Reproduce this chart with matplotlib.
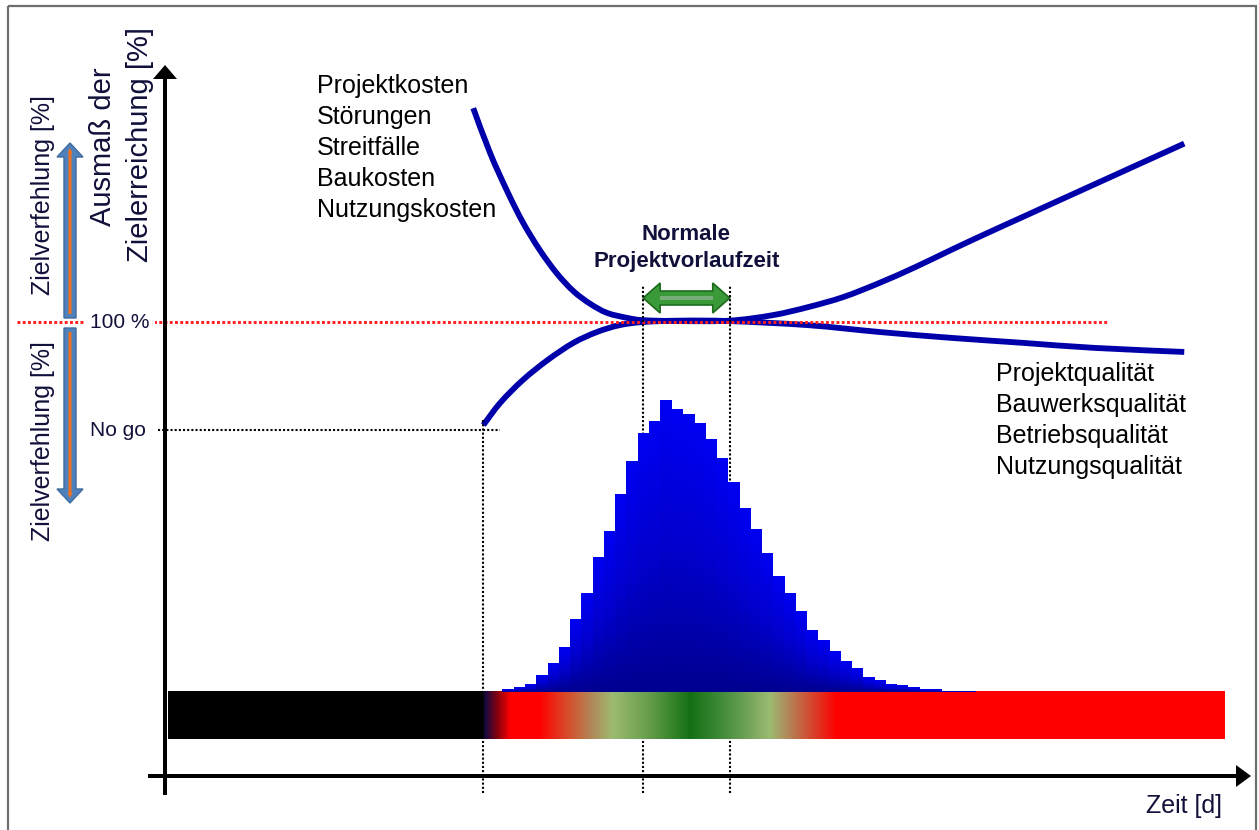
import numpy as np
import matplotlib.pyplot as plt
import matplotlib.patches as mpatches
from matplotlib.path import Path
from matplotlib.colors import LinearSegmentedColormap, to_rgb

plt.rcParams['font.family'] = ['Liberation Sans', 'DejaVu Sans']

# ---- values ----
cost_labels = ['Projektkosten', 'Störungen', 'Streitfälle', 'Baukosten', 'Nutzungskosten']
quality_labels = ['Projektqualität', 'Bauwerksqualität', 'Betriebsqualität', 'Nutzungsqualität']

# cost curve (Zielerreichung in %, over time in days)
cost_days = [27.4, 28.9, 30.4, 31.8, 33.3, 34.8, 36.3, 37.8, 39.3, 41.1, 42.5, 45.8, 50.2,
             54.0, 57.2, 60.3, 63.5, 66.7, 69.9, 73.1, 76.3, 79.4, 82.6, 85.8, 90.6]
cost_pct = [147.1, 137.2, 128.9, 122.0, 115.9, 110.8, 106.8, 104.0, 102.0, 100.9, 100.4, 100.2, 100.3,
            101.5, 103.3, 105.5, 108.6, 112.1, 115.9, 119.6, 123.2, 126.7, 130.3, 133.9, 139.3]

# quality curve
quality_days = [28.3, 29.8, 31.8, 34.0, 36.3, 38.4, 40.4, 42.5, 45.8, 50.2, 57.2, 63.5, 69.9, 76.3, 82.6, 90.6]
quality_pct = [77.3, 82.2, 87.2, 91.6, 95.4, 97.8, 99.3, 100.0, 100.3, 100.2, 99.3, 97.8, 96.5, 95.4, 94.3, 93.4]

# distribution of project lead time (relative frequency, peak = 100), one bar per day
hist_start = 30
hist_counts = [0.7, 1.7, 2.4, 5.8, 9.9, 15.4, 24.7, 33.9, 46.2, 54.8, 67.8, 78.8, 88.4, 92.5, 100,
               96.9, 94.9, 92.1, 86.6, 80.1, 71.6, 62.7, 55.8, 47.3, 39.4, 33.6, 27.7, 21.2, 17.5,
               13.7, 10.3, 7.9, 5.1, 4.1, 2.7, 2.1, 1.4, 1.0, 0.7, 0.3, 0.2, 0.2]

target_pct = 100
nogo_pct = 76.2
nogo_day = 28.3
window_days = [42.5, 50.2]

# colour zone along the time axis
zone_days = [28.2, 28.5, 29.5, 30.7, 33.3, 35.7, 38.0, 39.8, 42.8, 46.7, 50.0, 53.8, 55.3, 58.2, 59.7]
zone_colors = ['#000000', '#1a0a40', '#800010', '#ff0000', '#ff0000', '#d84a2a', '#b08a5a', '#9cba72',
               '#6aa050', '#147014', '#4a9040', '#9cba72', '#b08a5a', '#e03020', '#ff0000']

# ---- layout (pixels) ----
W, H = 1259, 830
X0, X1 = 165, 1250      # y-axis position, right end of x-axis
Y_AX, Y_TOP = 776, 65   # x-axis position, top of y-axis
PX_DAY, PX_PCT = 11.25, 4.54
HIST_BASE, PX_COUNT = 692, 2.92
navy = '#10103a'
curve_col = '#0000aa'


def px2day(px):
    return (px - X0) / PX_DAY


def py2pct(py):
    return (Y_AX - py) / PX_PCT


def smooth_path(xs, ys):
    # cubic bezier segments through the read points (Catmull-Rom tangents)
    p = np.column_stack([xs, ys])
    verts, codes = [p[0]], [Path.MOVETO]
    for i in range(len(p) - 1):
        p0 = p[i - 1] if i > 0 else p[i]
        p3 = p[i + 2] if i + 2 < len(p) else p[i + 1]
        verts += [p[i] + (p[i + 1] - p0) / 6, p[i + 1] - (p3 - p[i]) / 6, p[i + 1]]
        codes += [Path.CURVE4] * 3
    return Path(verts, codes)


fig = plt.figure(figsize=(W / 100, H / 100), dpi=100)
ax = fig.add_axes([X0 / W, (H - Y_AX) / H, (X1 - X0) / W, (Y_AX - Y_TOP) / H])
xlim = (0, px2day(X1))
ylim = (0, py2pct(Y_TOP))
ax.axis('off')

# curves
for xs, ys in [(cost_days, cost_pct), (quality_days, quality_pct)]:
    ax.add_patch(mpatches.PathPatch(smooth_path(xs, ys), fill=False, ec=curve_col, lw=4.2,
                                    capstyle='butt', zorder=2))

# reference lines
dot = (0, (1, 1))
ax.plot([px2day(17), px2day(1108)], [target_pct] * 2, color='#ff2020', lw=2.1,
        ls=(0, (1, 0.8)), clip_on=False, zorder=3)
ax.plot([px2day(158), px2day(500)], [nogo_pct] * 2, color='k', lw=1.5, ls=dot, clip_on=False, zorder=3)
low = py2pct(793)
ax.plot([nogo_day] * 2, [low, py2pct(418)], color='k', lw=1.5, ls=dot, clip_on=False, zorder=3)
for d in window_days:
    ax.plot([d, d], [low, py2pct(285)], color='k', lw=1.5, ls=dot, clip_on=False, zorder=3)

# green double arrow for the normal lead time
x0, x1 = window_days
yc = py2pct(298)
hl, hw, sw = 17 / PX_DAY, 15 / PX_PCT, 7 / PX_PCT
pts = [(x0, yc), (x0 + hl, yc + hw), (x0 + hl, yc + sw), (x1 - hl, yc + sw), (x1 - hl, yc + hw),
       (x1, yc), (x1 - hl, yc - hw), (x1 - hl, yc - sw), (x0 + hl, yc - sw), (x0 + hl, yc - hw)]
ax.add_patch(mpatches.Polygon(pts, closed=True, fc='#3a9a3a', ec='#1d6a1d', lw=1.2, zorder=2.5))
ax.add_patch(mpatches.Rectangle((x0 + hl, yc - 0.5), x1 - x0 - 2 * hl, 1.0, fc='#78ac78',
                                ec='none', zorder=2.6))
ax.text((x0 + x1) / 2, py2pct(240), 'Normale', ha='center', va='baseline', fontsize=16,
        fontweight='bold', color=navy)
ax.text((x0 + x1) / 2, py2pct(267), 'Projektvorlaufzeit', ha='center', va='baseline', fontsize=16,
        fontweight='bold', color=navy)
ax.set_xlim(*xlim)
ax.set_ylim(*ylim)

# histogram and colour band
ax_h = ax.twinx()
ax_h.axis('off')
band_l, band_r = px2day(168), px2day(1225)
band_b, band_t = -(739 - HIST_BASE) / PX_COUNT, (HIST_BASE - 691) / PX_COUNT
xs = np.linspace(band_l, band_r, 1600)
rgb = np.array([to_rgb(c) for c in zone_colors])
img = np.stack([np.interp(xs, zone_days, rgb[:, k]) for k in range(3)], axis=-1)[None, :, :]
ax_h.imshow(img, extent=[band_l, band_r, band_b, band_t], aspect='auto', interpolation='bilinear', zorder=1)

bars = ax_h.bar(hist_start + np.arange(len(hist_counts)), hist_counts, width=1, align='edge',
                color='#0000cc', linewidth=0, zorder=2)
bar_cmap = LinearSegmentedColormap.from_list('bar', [(0, '#000090'), (0.5, '#0000cc'), (1, '#0000f2')])
grad = np.linspace(0, 1, 64).reshape(-1, 1)
for b in bars:
    bx, bh = b.get_x(), b.get_height()
    ax_h.imshow(grad, extent=[bx, bx + 1, 0, bh], origin='lower', cmap=bar_cmap,
                aspect='auto', zorder=2.1)
ax_h.set_xlim(*xlim)
ax_h.set_ylim(-(Y_AX - HIST_BASE) / PX_COUNT, (HIST_BASE - Y_TOP) / PX_COUNT)

# overlay in pixel units for frame, axis arrows and labels
deco = fig.add_axes([0, 0, 1, 1], zorder=5)
deco.set_xlim(0, W)
deco.set_ylim(H, 0)
deco.axis('off')
deco.add_patch(mpatches.Rectangle((8, 6), 1248, 900, fill=False, ec='#6e6e6e', lw=1.6, clip_on=False))

deco.add_patch(mpatches.FancyArrow(148, Y_AX, 1251 - 148, 0, width=4, head_width=22, head_length=15,
                                   length_includes_head=True, fc='k', ec='none'))
deco.add_patch(mpatches.FancyArrow(X0, 795, 0, Y_TOP - 795, width=4, head_width=24, head_length=14,
                                   length_includes_head=True, fc='k', ec='none'))

# Zielverfehlung arrows
for start, end in [(318, 143), (328, 503)]:
    deco.add_patch(mpatches.FancyArrow(70, start, 0, end - start, width=12, head_width=26, head_length=14,
                                       length_includes_head=True, fc='#4f81bd', ec='#3f6c9e', lw=1))
    s = 1 if end > start else -1
    deco.add_patch(mpatches.FancyArrow(70, start + 4 * s, 0, end - start - 9 * s, width=3, head_width=5,
                                       head_length=5, length_includes_head=True, fc='#f07020', ec='none'))

deco.text(43, 195, 'Zielverfehlung [%]', rotation=90, ha='center', va='center', fontsize=18, color=navy)
deco.text(43, 441, 'Zielverfehlung [%]', rotation=90, ha='center', va='center', fontsize=18, color=navy)
deco.text(103, 147, 'Ausmaß der', rotation=90, ha='center', va='center', fontsize=21, color=navy)
deco.text(140, 144, 'Zielerreichung [%]', rotation=90, ha='center', va='center', fontsize=21, color=navy)

deco.text(90, 322, '100 %', ha='left', va='center', fontsize=15, color=navy,
          bbox=dict(fc='white', ec='none', pad=4))
deco.text(90, 430, 'No go', ha='left', va='center', fontsize=15, color=navy)

for i, lab in enumerate(cost_labels):
    deco.text(317, 93 + 31 * i, lab, ha='left', va='baseline', fontsize=18, color='black')
for i, lab in enumerate(quality_labels):
    deco.text(996, 381 + 31 * i, lab, ha='left', va='baseline', fontsize=18, color='black')

deco.text(1222, 813, 'Zeit [d]', ha='right', va='baseline', fontsize=18, color=navy)

fig.savefig('out.png', dpi=100)
